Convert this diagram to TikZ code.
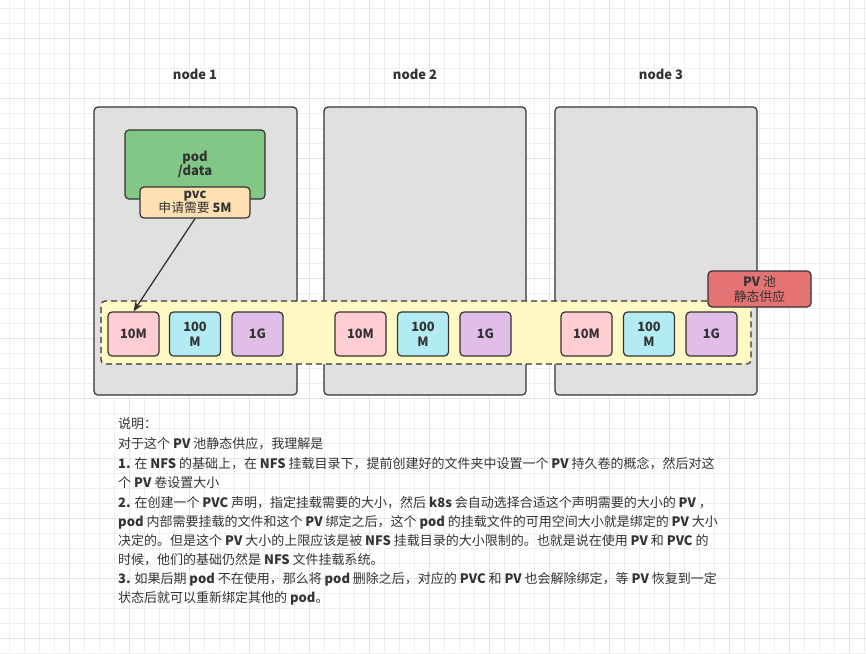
\documentclass[tikz,border=0pt]{standalone}
\usepackage{fontspec}
\setmainfont{Noto Sans CJK SC}
\usetikzlibrary{arrows.meta}
\definecolor{gridminor}{HTML}{EFEFEF}
\definecolor{gridmajor}{HTML}{E3E3E3}
\definecolor{strokec}{HTML}{333333}
\definecolor{txtc}{HTML}{333333}
\definecolor{nodegray}{HTML}{E0E0E0}
\definecolor{podgreen}{HTML}{82C785}
\definecolor{pvcpeach}{HTML}{FFE0B2}
\definecolor{poolyellow}{HTML}{FFF9C4}
\definecolor{pinkc}{HTML}{FFCDD2}
\definecolor{cyanc}{HTML}{B2EBF2}
\definecolor{lavc}{HTML}{E1BEE7}
\definecolor{redc}{HTML}{E57373}
\newcommand{\lat}[1]{{\bfseries #1}}
\tikzset{
  box/.style={draw=strokec, line width=1.2pt, rounded corners=4pt, inner sep=0pt, text=txtc, align=center},
  hostbox/.style={box, fill=nodegray, minimum width=203pt, minimum height=288pt},
  sizebox/.style={box, minimum width=51pt, minimum height=44pt, font=\fontsize{12.8}{15}\selectfont\bfseries},
  hosttitle/.style={text=txtc, font=\fontsize{13}{15}\selectfont\bfseries},
  bodyline/.style={anchor=base west, inner sep=0pt, text=txtc, font=\fontsize{13}{16}\selectfont},
}
\begin{document}
\begin{tikzpicture}[x=1pt,y=-1pt]
\useasboundingbox (0,0) rectangle (866,653);
\fill[white] (0,0) rectangle (866,653);
% grid
\foreach \k in {0,...,57} {\draw[gridminor, line width=0.8pt] ({9.3+15*\k},0) -- ({9.3+15*\k},653);}
\foreach \k in {0,...,43} {\draw[gridminor, line width=0.8pt] (0,{8.3+15*\k}) -- (866,{8.3+15*\k});}
\foreach \k in {0,...,13} {\draw[gridmajor, line width=0.9pt] ({69.3+60*\k},0) -- ({69.3+60*\k},653);}
\foreach \k in {0,...,10} {\draw[gridmajor, line width=0.9pt] (0,{38.3+60*\k}) -- (866,{38.3+60*\k});}

% titles
\node[hosttitle] (h1t) at (195,74) {node 1};
\node[hosttitle] (h2t) at (415,74) {node 2};
\node[hosttitle] (h3t) at (661,74) {node 3};

% host boxes
\node[hostbox] (h1) at (195.5,251) {};
\node[hostbox, minimum width=202pt] (h2) at (425,251) {};
\node[hostbox, minimum width=202pt] (h3) at (656,251) {};

% pod and pvc
\node[box, fill=podgreen, minimum width=140pt, minimum height=69pt, font=\fontsize{13}{15}\selectfont\bfseries] (pod) at (195,164.5) {pod\\[-0.5pt]/data};
\node[box, fill=pvcpeach, minimum width=110pt, minimum height=31pt, font=\fontsize{12.8}{13.5}\selectfont] (pvc) at (195,202.5) {\lat{pvc}\\申请需要 \lat{5M}};

% pool
\node[box, dashed, dash pattern=on 6pt off 4pt, fill=poolyellow, minimum width=650pt, minimum height=63pt] (pool) at (426,332.5) {};

% size boxes
\node[sizebox, fill=pinkc] (a1) at (133.5,334) {10M};
\node[sizebox, fill=cyanc] (a2) at (195,334) {100\\M};
\node[sizebox, fill=lavc] (a3) at (257.5,334) {1G};
\node[sizebox, fill=pinkc] (b1) at (360.5,334) {10M};
\node[sizebox, fill=cyanc] (b2) at (423,334) {100\\M};
\node[sizebox, fill=lavc] (b3) at (485.5,334) {1G};
\node[sizebox, fill=pinkc] (c1) at (586.5,334) {10M};
\node[sizebox, fill=cyanc] (c2) at (649,334) {100\\M};
\node[sizebox, fill=lavc] (c3) at (711.5,334) {1G};

% PV pool label
\node[box, fill=redc, minimum width=103pt, minimum height=36pt, font=\fontsize{12.8}{15}\selectfont] (pvpool) at (759.5,289) {\lat{PV} 池\\静态供应};

% arrow
\draw[strokec, line width=1.3pt, -{Stealth[length=10pt,width=8pt]}] (pvc.south) -- (a1.north);

% explanation text
\node[bodyline] (t1) at (118,428) {说明：};
\node[bodyline] (t2) at (118,448) {对于这个 \lat{PV} 池静态供应，我理解是};
\node[bodyline] (t3) at (118,468) {\lat{1.} 在 \lat{NFS} 的基础上，在 \lat{NFS} 挂载目录下，提前创建好的文件夹中设置一个 \lat{PV} 持久卷的概念，然后对这};
\node[bodyline] (t4) at (118,487) {个 \lat{PV} 卷设置大小};
\node[bodyline] (t5) at (118,507) {\lat{2.} 在创建一个 \lat{PVC} 声明，指定挂载需要的大小，然后 \lat{k8s} 会自动选择合适这个声明需要的大小的 \lat{PV} ，};
\node[bodyline] (t6) at (118,526) {\lat{pod} 内部需要挂载的文件和这个 \lat{PV} 绑定之后，这个 \lat{pod} 的挂载文件的可用空间大小就是绑定的 \lat{PV} 大小};
\node[bodyline] (t7) at (118,545) {决定的。但是这个 \lat{PV} 大小的上限应该是被 \lat{NFS} 挂载目录的大小限制的。也就是说在使用 \lat{PV} 和 \lat{PVC} 的};
\node[bodyline] (t8) at (118,564) {时候，他们的基础仍然是 \lat{NFS} 文件挂载系统。};
\node[bodyline] (t9) at (118,583) {\lat{3.} 如果后期 \lat{pod} 不在使用，那么将 \lat{pod} 删除之后，对应的 \lat{PVC} 和 \lat{PV} 也会解除绑定，等 \lat{PV} 恢复到一定};
\node[bodyline] (t10) at (118,602) {状态后就可以重新绑定其他的 \lat{pod}。};
\end{tikzpicture}
\end{document}
